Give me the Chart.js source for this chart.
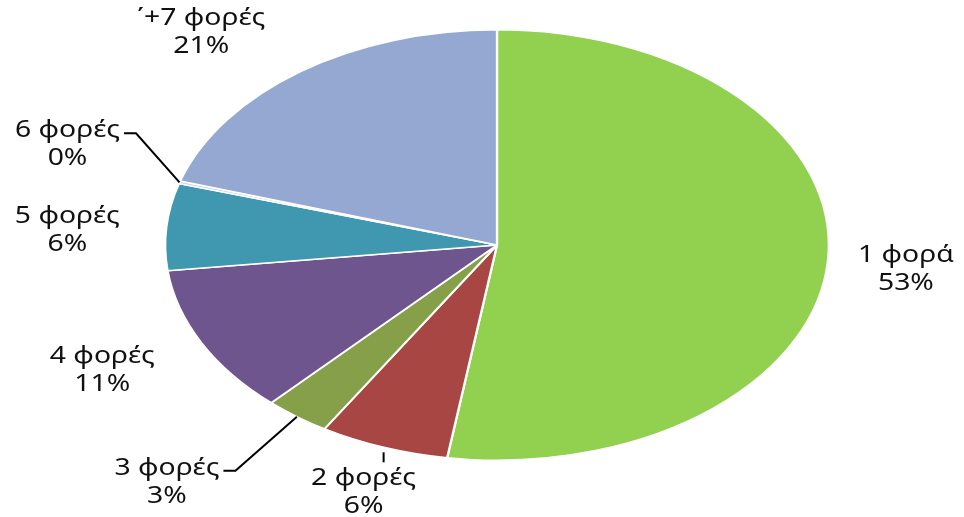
<!DOCTYPE html>
<html>
<head>
<meta charset="utf-8">
<script src="https://cdn.jsdelivr.net/npm/chart.js@4"></script>
<style>
  html, body { margin: 0; padding: 0; background: #fff; }
  #wrap { width: 964px; height: 517px; }
</style>
</head>
<body>
<div id="wrap"><canvas id="pieChart" width="964" height="517"></canvas></div>
<script>
// data
const categories = ['1 φορά', '2 φορές', '3 φορές', '4 φορές', '5 φορές', '6 φορές', '΄+7 φορές'];
const values = [52.4, 6.3, 3.2, 11.2, 6.5, 0.2, 20.2];
const pctLabels = ['53%', '6%', '3%', '11%', '6%', '0%', '21%'];
const colors = ['#92D050', '#A84644', '#86A04A', '#6F558E', '#3F98B0', '#C9D6EE', '#94A8D2'];

// label placement relative to the slice edge (layout only)
const labelOffset = [[78, 8], [-20, 45], [-130, 65], [-99, 27], [-99, 3], [-112, -38], [-99, -40]];
const leader = [null, 'tick', 'elbow', null, null, 'elbow', null];

const stretchX = 333 / 216;
const textStretch = 1.18;
const font = '24px "Noto Sans", "Open Sans", sans-serif';

const ellipsePlugin = {
    id: 'ellipse',
    beforeDatasetsDraw(chart) {
        const a = chart.getDatasetMeta(0).data[0];
        const ctx = chart.ctx;
        ctx.save();
        ctx.translate(a.x, a.y);
        ctx.scale(stretchX, 1);
        ctx.translate(-a.x, -a.y);
    },
    afterDatasetsDraw(chart) {
        chart.ctx.restore();
    }
};

function drawText(ctx, txt, x, y) {
    ctx.save();
    ctx.translate(x, y);
    ctx.scale(textStretch, 1);
    ctx.fillText(txt, 0, 0);
    ctx.restore();
}

const labelPlugin = {
    id: 'pieLabels',
    afterDraw(chart) {
        const ctx = chart.ctx;
        ctx.save();
        ctx.font = font;
        ctx.fillStyle = '#111';
        ctx.textAlign = 'center';
        ctx.textBaseline = 'middle';
        chart.getDatasetMeta(0).data.forEach((el, i) => {
            const mid = (el.startAngle + el.endAngle) / 2;
            const ax = el.x + Math.cos(mid) * el.outerRadius * stretchX;
            const ay = el.y + Math.sin(mid) * el.outerRadius;
            const cx = ax + labelOffset[i][0];
            const cy = ay + labelOffset[i][1];
            const y1 = cy - 14, y2 = cy + 14;
            drawText(ctx, categories[i], cx, y1);
            drawText(ctx, pctLabels[i], cx, y2);

            ctx.strokeStyle = '#000';
            ctx.lineWidth = 2;
            if (leader[i] === 'elbow') {
                const w = ctx.measureText(categories[i]).width * textStretch;
                const ex = cx + w / 2 + 4;
                ctx.beginPath();
                ctx.moveTo(ex, y1 + 3);
                ctx.lineTo(ex + 12, y1 + 3);
                ctx.lineTo(ax, ay);
                ctx.stroke();
            } else if (leader[i] === 'tick') {
                ctx.beginPath();
                ctx.moveTo(ax, ay + 5);
                ctx.lineTo(ax, ay + 15);
                ctx.stroke();
            }
        });
        ctx.restore();
    }
};

new Chart(document.getElementById('pieChart'), {
    type: 'pie',
    data: {
        labels: categories,
        datasets: [{
            data: values,
            backgroundColor: colors,
            borderColor: '#ffffff',
            borderWidth: 1.5
        }]
    },
    options: {
        responsive: false,
        animation: false,
        layout: { padding: { top: 29, bottom: 56, left: 281, right: 251 } },
        plugins: {
            legend: { display: false },
            tooltip: { enabled: false }
        }
    },
    plugins: [ellipsePlugin, labelPlugin]
});
</script>
</body>
</html>
